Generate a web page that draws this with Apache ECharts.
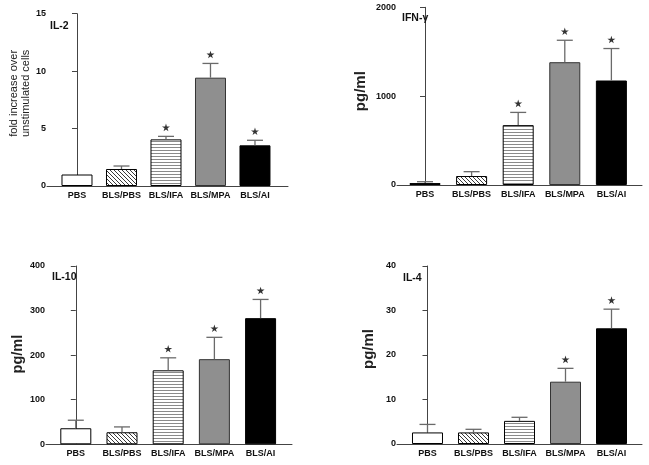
<!DOCTYPE html>
<html>
<head>
<meta charset="utf-8">
<script src="https://cdn.jsdelivr.net/npm/echarts@6/dist/echarts.min.js"></script>
<style>
html,body{margin:0;padding:0;background:#fff;}
#chart{width:649px;height:465px;}
</style>
</head>
<body>
<div id="chart"></div>
<script>
// ---- data ----
const categories = ['PBS', 'BLS/PBS', 'BLS/IFA', 'BLS/MPA', 'BLS/AI'];

const il2Mean = [1.0, 1.48, 4.06, 9.43, 3.54];
const il2Sem  = [0, 0.26, 0.26, 1.24, 0.44];
const il2Sig  = [0, 0, 1, 1, 1];
const il2Ticks = [0, 5, 10, 15];

const ifnMean = [22, 101, 674, 1382, 1176];
const ifnSem  = [15, 49, 143, 247, 360];
const ifnSig  = [0, 0, 1, 1, 1];
const ifnTicks = [0, 1000, 2000];

const il10Mean = [36, 27, 166, 191, 283];
const il10Sem  = [18, 12, 28, 49, 42];
const il10Sig  = [0, 0, 1, 1, 1];
const il10Ticks = [0, 100, 200, 300, 400];

const il4Mean = [2.6, 2.6, 5.2, 14.0, 26.0];
const il4Sem  = [1.8, 0.7, 0.8, 3.0, 4.3];
const il4Sig  = [0, 0, 0, 1, 1];
const il4Ticks = [0, 10, 20, 30, 40];

const panelTitles = ['IL-2', 'IFN-\u03b3', 'IL-10', 'IL-4'];
const yNames = ['fold increase over\nunstimulated cells', 'pg/ml', 'pg/ml', 'pg/ml'];

// ---- patterns ----
function hatchCanvas() {
  const c = document.createElement('canvas');
  c.width = 4; c.height = 4;
  const g = c.getContext('2d');
  g.fillStyle = '#fff'; g.fillRect(0, 0, 4, 4);
  g.fillStyle = '#3a3a3a';
  for (let k = 0; k < 4; k++) g.fillRect(k, k, 1, 1);
  return c;
}
function stripeCanvas() {
  const c = document.createElement('canvas');
  c.width = 4; c.height = 3;
  const g = c.getContext('2d');
  g.fillStyle = '#fff'; g.fillRect(0, 0, 4, 3);
  g.fillStyle = '#8a8a8a'; g.fillRect(0, 0, 4, 1);
  return c;
}
const fills = [
  '#ffffff',
  { image: hatchCanvas(), repeat: 'repeat' },
  { image: stripeCanvas(), repeat: 'repeat' },
  '#8f8f8f',
  '#000000'
];

const FONT = '"Liberation Sans", Arial, Helvetica, sans-serif';
const STAR = 'path://M50,0 L61,35 L98,35 L68,57 L79,91 L50,70 L21,91 L32,57 L2,35 L39,35 Z';

// layout per panel (positions/styles only)
const layout = [
  { grid: { left: 47, top: 13.7, width: 241, height: 172.3 }, xMin: -0.674, xMax: 4.742,
    nameGap: 13, nameSize: 11, nameBold: 'normal', namePad: [0, 0, 0, 13],
    title: { left: 50, top: 21 } },
  { grid: { left: 397, top: 7.3, width: 245, height: 177.7 }, xMin: -0.601, xMax: 4.657,
    nameGap: 28, nameSize: 15, nameBold: 'bold', namePad: [0, 0, 0, 10],
    title: { left: 402, top: 13 } },
  { grid: { left: 46, top: 266, width: 246, height: 178.3 }, xMin: -0.645, xMax: 4.68,
    nameGap: 20, nameSize: 14.5, nameBold: 'bold', namePad: [0, 0, 0, 2],
    title: { left: 52, top: 272 } },
  { grid: { left: 397, top: 266, width: 245, height: 178 }, xMin: -0.663, xMax: 4.663,
    nameGap: 20, nameSize: 15, nameBold: 'bold', namePad: [0, 0, 0, 12],
    title: { left: 403, top: 273 } }
];

const panels = [
  { mean: il2Mean, sem: il2Sem, sig: il2Sig, ticks: il2Ticks },
  { mean: ifnMean, sem: ifnSem, sig: ifnSig, ticks: ifnTicks },
  { mean: il10Mean, sem: il10Sem, sig: il10Sig, ticks: il10Ticks },
  { mean: il4Mean, sem: il4Sem, sig: il4Sig, ticks: il4Ticks }
];

const grids = [], xAxes = [], yAxes = [], series = [], titles = [];

panels.forEach((p, i) => {
  const L = layout[i];
  grids.push(Object.assign({ containLabel: false }, L.grid));
  titles.push({
    text: panelTitles[i], left: L.title.left, top: L.title.top, padding: 0,
    textStyle: { fontFamily: FONT, fontSize: 10.5, fontWeight: 'bold', color: '#111' }
  });
  xAxes.push({
    type: 'value', gridIndex: i, min: L.xMin, max: L.xMax,
    splitLine: { show: false },
    axisTick: { show: false },
    axisLine: { show: true, onZero: false, lineStyle: { color: '#444', width: 1 } },
    axisLabel: {
      customValues: [0, 1, 2, 3, 4],
      formatter: v => categories[Math.round(v)],
      fontFamily: FONT, fontSize: 9, fontWeight: 'bold', color: '#111', margin: 5
    }
  });
  const step = p.ticks[1] - p.ticks[0];
  yAxes.push({
    type: 'value', gridIndex: i, min: p.ticks[0], max: p.ticks[p.ticks.length - 1], interval: step,
    splitLine: { show: false },
    axisLine: { show: true, lineStyle: { color: '#444', width: 1 } },
    axisTick: { show: true, length: 5, lineStyle: { color: '#444' } },
    axisLabel: { formatter: v => String(v), fontFamily: FONT, fontSize: 9, fontWeight: 'bold', color: '#111', margin: 1 },
    name: yNames[i], nameLocation: 'middle', nameRotate: 90, nameGap: L.nameGap,
    nameTextStyle: { fontFamily: FONT, fontSize: L.nameSize, fontWeight: L.nameBold, color: '#222',
      lineHeight: L.nameSize + 1, padding: L.namePad }
  });
  series.push({
    type: 'bar', xAxisIndex: i, yAxisIndex: i, barWidth: 31,
    data: p.mean.map((v, k) => ({
      value: [k, v],
      itemStyle: { color: fills[k], borderColor: k === 3 ? '#333' : '#000', borderWidth: 1 }
    })),
    animation: false, z: 2
  });
  series.push({
    type: 'custom', xAxisIndex: i, yAxisIndex: i,
    data: p.mean.map((v, k) => [k, v, v + p.sem[k]]),
    renderItem: (params, api) => {
      const x = api.value(0), m = api.value(1), u = api.value(2);
      if (u <= m) return null;
      const a = api.coord([x, m]), b = api.coord([x, u]);
      const st = { stroke: '#6a6a6a', lineWidth: 1.3 };
      return { type: 'group', children: [
        { type: 'line', shape: { x1: a[0], y1: a[1], x2: b[0], y2: b[1] }, style: st },
        { type: 'line', shape: { x1: b[0] - 8, y1: b[1], x2: b[0] + 8, y2: b[1] }, style: st }
      ]};
    },
    animation: false, z: 3
  });
  series.push({
    type: 'scatter', xAxisIndex: i, yAxisIndex: i,
    symbol: STAR, symbolSize: 8, symbolKeepAspect: true, symbolOffset: [0, -9],
    itemStyle: { color: '#000' },
    data: p.mean.map((v, k) => p.sig[k] ? [k, v + p.sem[k]] : null).filter(d => d),
    animation: false, z: 4
  });
});

const chart = echarts.init(document.getElementById('chart'), null, { renderer: 'canvas' });
chart.setOption({
  backgroundColor: '#fff',
  animation: false,
  title: titles,
  grid: grids,
  xAxis: xAxes,
  yAxis: yAxes,
  series: series
});
</script>
</body>
</html>
